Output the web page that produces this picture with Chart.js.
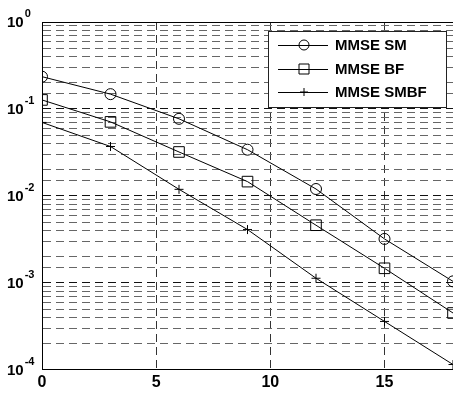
<!DOCTYPE html>
<html>
<head>
<meta charset="utf-8">
<script src="https://cdn.jsdelivr.net/npm/chart.js@4"></script>
<style>
  html, body { margin: 0; padding: 0; background: #fff; }
  #box { width: 453px; height: 396px; }
</style>
</head>
<body>
<div id="box"><canvas id="grafico"></canvas></div>
<script>
/* DADOS */
const snr = [0, 3, 6, 9, 12, 15, 18];
const mmseSM = [0.235, 0.148, 0.077, 0.034, 0.012, 0.0032, 0.00104];
const mmseBF = [0.127, 0.071, 0.032, 0.0146, 0.0046, 0.00147, 0.00045];
const mmseSMBF = [0.07, 0.037, 0.0119, 0.0041, 0.00113, 0.00036, 0.000115];
const xTicks = [0, 5, 10, 15];
const yDecades = [1, 0.1, 0.01, 0.001, 0.0001];
const nomes = ["MMSE SM", "MMSE BF", "MMSE SMBF"];

const fonte = "Liberation Sans, Arial, sans-serif";
const pontos = (ys) => snr.map((x, i) => ({ x: x, y: ys[i] }));
const isDecade = (v) => Math.abs(Math.log10(v) - Math.round(Math.log10(v))) < 1e-6;

/* rotulos 10^n e moldura de cima */
const eixoY = {
    id: "eixoY",
    afterDraw(chart) {
        const ctx = chart.ctx;
        const y = chart.scales.y;
        const a = chart.chartArea;
        ctx.save();
        ctx.strokeStyle = "#000";
        ctx.lineWidth = 1;
        ctx.beginPath();
        ctx.moveTo(a.left, a.top + 0.5);
        ctx.lineTo(a.right, a.top + 0.5);
        ctx.stroke();
        ctx.fillStyle = "#000";
        ctx.textBaseline = "middle";
        yDecades.forEach(v => {
            const py = y.getPixelForValue(v);
            const exp = String(Math.round(Math.log10(v)));
            ctx.font = "bold 15px " + fonte;
            ctx.textAlign = "left";
            ctx.fillText("10", 7, py + 1);
            const w = ctx.measureText("10").width;
            ctx.font = "bold 11px " + fonte;
            ctx.fillText(exp, 7 + w + 1, py - 8);
        });
        ctx.restore();
    }
};

/* legenda dentro do grafico */
const legenda = {
    id: "legenda",
    afterDatasetsDraw(chart) {
        const ctx = chart.ctx;
        const x0 = 268, y0 = 31, w = 178, h = 76;
        ctx.save();
        ctx.fillStyle = "#fff";
        ctx.fillRect(x0, y0, w, h);
        ctx.strokeStyle = "#222";
        ctx.lineWidth = 1;
        ctx.strokeRect(x0 + 0.5, y0 + 0.5, w, h);
        const linhas = [45, 69, 92];
        chart.data.datasets.forEach((ds, i) => {
            const ly = linhas[i];
            ctx.strokeStyle = "#000";
            ctx.beginPath();
            ctx.moveTo(278, ly + 0.5);
            ctx.lineTo(328, ly + 0.5);
            ctx.stroke();
            const cx = 304;
            ctx.beginPath();
            if (ds.pointStyle === "circle") {
                ctx.arc(cx, ly, 5, 0, Math.PI * 2);
            } else if (ds.pointStyle === "rect") {
                ctx.rect(cx - 5, ly - 5, 10, 10);
            } else {
                ctx.moveTo(cx, ly - 4); ctx.lineTo(cx, ly + 4);
                ctx.moveTo(cx - 4, ly); ctx.lineTo(cx + 4, ly);
            }
            ctx.stroke();
            ctx.fillStyle = "#000";
            ctx.font = "bold 15px " + fonte;
            ctx.textAlign = "left";
            ctx.textBaseline = "middle";
            ctx.fillText(ds.label, 335, ly + 1);
        });
        ctx.restore();
    }
};

new Chart(document.getElementById("grafico"), {
    type: "line",
    data: {
        datasets: [
            { label: nomes[0], data: pontos(mmseSM), pointStyle: "circle", pointRadius: 5.5 },
            { label: nomes[1], data: pontos(mmseBF), pointStyle: "rect", pointRadius: 7.5 },
            { label: nomes[2], data: pontos(mmseSMBF), pointStyle: "cross", pointRadius: 4.5 }
        ].map(d => Object.assign(d, {
            borderColor: "#000",
            borderWidth: 1,
            pointBorderColor: "#000",
            pointBackgroundColor: "transparent",
            pointBorderWidth: 1,
            fill: false,
            tension: 0
        }))
    },
    options: {
        responsive: true,
        maintainAspectRatio: false,
        animation: false,
        layout: { autoPadding: false, padding: { left: 42, top: 22, right: 0, bottom: 1 } },
        plugins: { legend: { display: false }, tooltip: { enabled: false } },
        scales: {
            x: {
                type: "linear",
                min: 0,
                max: 18,
                afterBuildTicks: (s) => { s.ticks = xTicks.map(v => ({ value: v })); },
                afterFit: (s) => { s.paddingRight = 0; },
                ticks: { color: "#000", font: { family: fonte, size: 16, weight: "bold" }, padding: 3, maxRotation: 0 },
                grid: { color: "#333", lineWidth: 1, drawTicks: false },
                border: { color: "#000", width: 1, dash: [8, 5] }
            },
            y: {
                type: "logarithmic",
                min: 0.0001,
                max: 1,
                ticks: { display: false, autoSkip: false },
                grid: {
                    drawTicks: false,
                    lineWidth: 1,
                    color: (c) => (c.tick && isDecade(c.tick.value)) ? "#111" : "#666"
                },
                border: { color: "#000", width: 1, dash: [8, 5] }
            }
        }
    },
    plugins: [eixoY, legenda]
});
</script>
</body>
</html>
